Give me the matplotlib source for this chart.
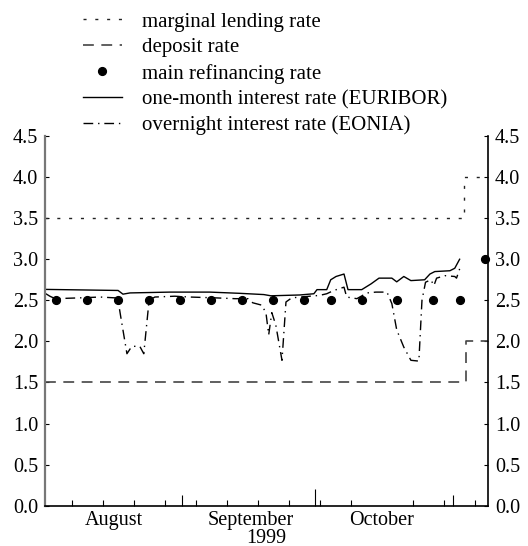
from matplotlib import pyplot as plt
import numpy as np

plt.rcParams.update({'font.size': 14.5, 'font.family': ['Liberation Serif', 'DejaVu Serif']})

# days counted from 1 August 1999
month_starts = [31, 61, 92]          # 1 Sep, 1 Oct, 1 Nov
quarter_start = [61]                 # 1 Oct
week_ticks = [6, 13, 20, 27, 34, 41, 48, 55, 62, 69, 76, 83, 90, 97]
month_mid = [15.5, 46.5, 76.0]
month_names = ['August', 'September', 'October']

marginal_days = [0, 94.6, 100]
marginal_rate = [3.5, 4.0, 4.0]
deposit_days = [0, 95.0, 100]
deposit_rate = [1.5, 2.0, 2.0]

refi_days = [2.5, 9.4, 16.5, 23.5, 30.5, 37.5, 44.5, 51.5, 58.4, 64.6, 71.5, 79.5, 87.6, 93.6, 99.3]
refi_rate = [2.5, 2.5, 2.5, 2.5, 2.5, 2.5, 2.5, 2.5, 2.5, 2.5, 2.5, 2.5, 2.5, 2.5, 3.0]

euribor_days = [0, 16.5, 17.6, 19.2, 28.2, 37.2, 44.0, 49.4, 51.0, 57.5, 60.7, 61.4, 63.6, 64.5,
                65.7, 67.5, 68.4, 71.5, 73.6, 75.4, 78.3, 79.4, 81.0, 82.6, 85.7, 86.9, 88.0,
                91.4, 92.5, 93.6]
euribor = [2.633, 2.62, 2.575, 2.59, 2.60, 2.60, 2.585, 2.57, 2.555, 2.565, 2.58, 2.63, 2.63, 2.75,
           2.79, 2.82, 2.63, 2.63, 2.70, 2.77, 2.77, 2.725, 2.79, 2.74, 2.75, 2.82, 2.85,
           2.86, 2.89, 3.00]

eonia_days = [0.2, 1.1, 2.3, 7.9, 12.4, 15.8, 16.5, 17.1, 18.5, 19.6, 21.4, 22.3, 23.5, 24.8,
              29.3, 32.7, 38.4, 42.9, 45.8, 46.9, 49.0, 49.9, 50.5, 51.2, 52.1, 53.5, 54.4,
              55.7, 59.8, 62.0, 63.6, 65.2, 67.5, 68.1, 70.4, 72.7, 74.7, 77.2, 78.3, 79.4,
              81.0, 82.6, 84.4, 85.1, 85.9, 87.1, 87.8, 88.4, 90.3, 92.5, 92.9, 93.9]
eonia = [2.58, 2.55, 2.52, 2.53, 2.54, 2.53, 2.50, 2.30, 1.85, 1.94, 1.94, 1.85, 2.50, 2.54,
         2.55, 2.54, 2.53, 2.52, 2.52, 2.47, 2.44, 2.34, 2.08, 2.35, 2.20, 1.77, 2.48,
         2.53, 2.55, 2.56, 2.58, 2.62, 2.66, 2.54, 2.52, 2.59, 2.60, 2.60, 2.46, 2.14,
         1.93, 1.77, 1.76, 2.50, 2.72, 2.75, 2.68, 2.77, 2.80, 2.79, 2.77, 2.93]

yticks = np.arange(0, 4.51, 0.5)

fig = plt.figure(figsize=(5.28, 5.46), dpi=100)
ax = fig.add_axes([0.0852, 0.0738, 0.9242 - 0.0852, 0.7509 - 0.0738])

l1, = ax.plot(marginal_days, marginal_rate, drawstyle='steps-post', color='#222222',
              lw=1.0, dashes=(2.2, 6.3), label='marginal lending rate')
l2, = ax.plot(deposit_days, deposit_rate, drawstyle='steps-post', color='#444444',
              lw=1.2, dashes=(6.5, 4.5), label='deposit rate')
l3, = ax.plot(refi_days, refi_rate, 'o', color='black', ms=5.6, clip_on=False,
              label='main refinancing rate')
l4, = ax.plot(euribor_days, euribor, color='black', lw=1.0,
              label='one-month interest rate (EURIBOR)')
l5, = ax.plot(eonia_days, eonia, color='black', lw=1.0, dashes=(7, 3.5, 1, 3.5),
              label='overnight interest rate (EONIA)')

ax.set_xlim(0, 100)
ax.set_ylim(0, 4.5)

# y axis on both sides
ax.set_yticks(yticks)
ax.set_yticklabels([f'{v:.1f}' for v in yticks])
ax.tick_params(axis='y', which='both', direction='in', length=3, width=0.8,
               left=True, right=True, labelleft=True, labelright=True, pad=5)
ax.spines['top'].set_visible(False)
ax.spines['left'].set_color('#777777')
ax.spines['left'].set_linewidth(1.6)
ax.spines['right'].set_linewidth(1.2)
ax.spines['bottom'].set_linewidth(1.2)

# weekly small ticks, months as labels
ax.set_xticks(week_ticks, minor=True)
ax.set_xticks(month_mid)
ax.set_xticklabels(month_names)
ax.tick_params(axis='x', which='major', length=0, pad=4)
ax.tick_params(axis='x', which='minor', direction='in', length=4, width=0.8)
ax.set_xlabel('1999', labelpad=-1)

# month boundaries as taller ticks
sec = ax.secondary_xaxis('bottom')
sec.set_xticks(quarter_start)
sec.set_xticks(month_starts, minor=True)
sec.tick_params(which='major', direction='in', length=12, width=0.8, labelbottom=False)
sec.tick_params(which='minor', direction='in', length=8, width=0.8)
sec.set_xticklabels([])
sec.spines['bottom'].set_visible(False)

fig.legend(handles=[l1, l2, l3, l4, l5], loc='upper left', bbox_to_anchor=(83 / 528, 1 - 12 / 546),
           frameon=False, borderpad=0, borderaxespad=0, handlelength=1.85, handletextpad=1.0,
           labelspacing=0.3, fontsize=15)

fig.savefig('out.png', dpi=100)
